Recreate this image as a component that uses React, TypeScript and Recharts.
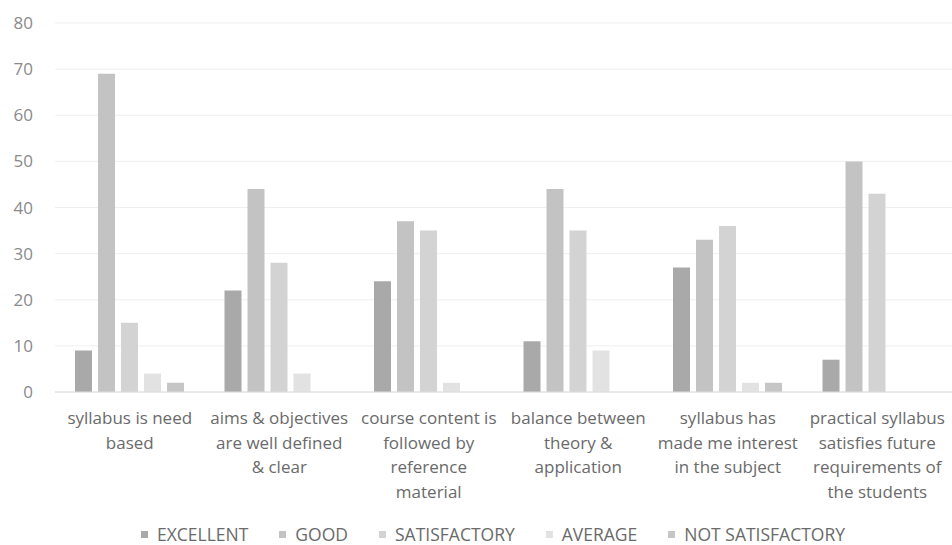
import React from "react";
import { BarChart, Bar, XAxis, YAxis, CartesianGrid, Legend } from "recharts";

const categories = [
  "syllabus is need\nbased",
  "aims & objectives\nare well defined\n& clear",
  "course content is\nfollowed by\nreference\nmaterial",
  "balance between\ntheory &\napplication",
  "syllabus has\nmade me interest\nin the subject",
  "practical syllabus\nsatisfies future\nrequirements of\nthe students",
];
const excellent = [9, 22, 24, 11, 27, 7];
const good = [69, 44, 37, 44, 33, 50];
const satisfactory = [15, 28, 35, 35, 36, 43];
const average = [4, 4, 2, 9, 2, 0];
const notSatisfactory = [2, 0, 0, 0, 2, 0];
const yTicks = [0, 10, 20, 30, 40, 50, 60, 70, 80];

const seriesNames = ["EXCELLENT", "GOOD", "SATISFACTORY", "AVERAGE", "NOT SATISFACTORY"];
const seriesKeys = ["excellent", "good", "satisfactory", "average", "notSatisfactory"];
const seriesColors = ["#a9a9a9", "#c3c3c3", "#d3d3d3", "#e2e2e2", "#c6c6c6"];

const data = categories.map((c, i) => ({
  name: c,
  excellent: excellent[i],
  good: good[i],
  satisfactory: satisfactory[i],
  average: average[i],
  notSatisfactory: notSatisfactory[i],
}));

const FONT = "'Open Sans', 'Noto Sans', sans-serif";
const TEXT = "#6a6a6a";

const CatTick = (props: any) => {
  const { x, y, payload } = props;
  const lines = String(payload.value).split("\n");
  return (
    <g transform={`translate(${x},${y})`}>
      {lines.map((l: string, i: number) => (
        <text key={i} x={0} y={i * 24.5} dy={24} textAnchor="middle" fill={TEXT} fontSize={17} fontFamily={FONT}>
          {l}
        </text>
      ))}
    </g>
  );
};

const LegendContent = () => (
  <div style={{ display: "flex", justifyContent: "center", alignItems: "flex-end", fontFamily: FONT, fontSize: 17.5, color: TEXT, height: 26, paddingLeft: 34, lineHeight: "21px" }}>
    {seriesNames.map((n, i) => (
      <div key={n} style={{ display: "flex", alignItems: "center", marginRight: i < seriesNames.length - 1 ? 31 : 0 }}>
        <span style={{ display: "inline-block", width: 7, height: 7, background: seriesColors[i], marginRight: 9 }} />
        <span>{n}</span>
      </div>
    ))}
  </div>
);

export default function App() {
  return (
    <div style={{ position: "absolute", left: 0, top: 0, width: 952, height: 545, background: "#fff" }}>
      <BarChart
        width={952}
        height={545}
        data={data}
        margin={{ top: 23, right: 0, left: 0, bottom: 0 }}
        barSize={17}
        barGap={6}
      >
        <CartesianGrid vertical={false} stroke="#efefef" />
        <XAxis
          dataKey="name"
          tick={<CatTick />}
          tickLine={false}
          axisLine={{ stroke: "#dcdcdc" }}
          interval={0}
          height={127}
        />
        <YAxis
          domain={[0, 80]}
          ticks={yTicks}
          width={55}
          tickLine={false}
          axisLine={false}
          tickMargin={16}
          tick={{ fill: "#8a8a8a", fontSize: 17, fontFamily: FONT }}
        />
        <Legend verticalAlign="bottom" content={<LegendContent />} />
        {seriesKeys.map((k, i) => (
          <Bar key={k} dataKey={k} name={seriesNames[i]} fill={seriesColors[i]} isAnimationActive={false} />
        ))}
      </BarChart>
    </div>
  );
}
